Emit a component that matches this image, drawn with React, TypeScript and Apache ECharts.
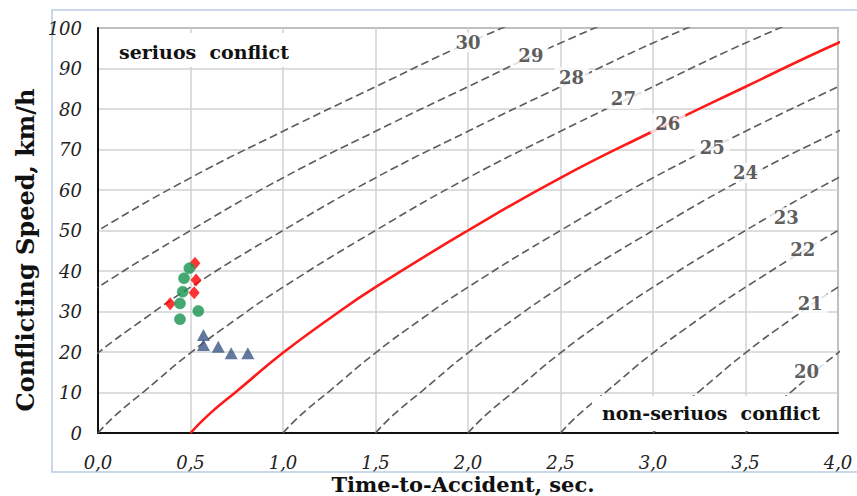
import React, { useEffect, useRef } from "react";
import * as echarts from "echarts";

// Base curve: Conflicting speed (km/h) vs time offset (s) from each contour's intercept
const baseS = [0, 0.1, 0.25, 0.5, 0.75, 1.0, 1.5, 2.0, 2.5, 3.0, 3.5, 4.0];
const baseV = [0, 4.6, 10.3, 19.8, 28.2, 36, 50, 63, 74.5, 85.5, 96.3, 106];

// Contours (severity levels) and their time-axis intercepts
const contourValues = [30, 29, 28, 27, 26, 25, 24, 23, 22, 21, 20];
const contourIntercepts = [-1.5, -1.0, -0.5, 0.0, 0.5, 1.0, 1.5, 2.0, 2.5, 3.0, 3.5];
const contourLabelT = [2.0, 2.34, 2.56, 2.84, 3.08, 3.32, 3.5, 3.72, 3.81, 3.85, 3.83];
const contourLabelV = [96.5, 93.1, 87.9, 82.5, 76.5, 70.6, 64.2, 53.3, 45.2, 31.9, 15.3];
const criticalLevel = 26;

// Observed conflicts
const diamondT = [0.524, 0.53, 0.52, 0.39];
const diamondV = [41.9, 37.8, 34.6, 31.9];
const circleT = [0.494, 0.465, 0.458, 0.443, 0.542, 0.443];
const circleV = [40.7, 38.2, 34.9, 32.0, 30.1, 28.1];
const triangleT = [0.57, 0.57, 0.65, 0.72, 0.81];
const triangleV = [24.2, 21.7, 21.3, 19.7, 19.7];

const xTicks = ["0,0", "0,5", "1,0", "1,5", "2,0", "2,5", "3,0", "3,5", "4,0"];

export default function App() {
  const ref = useRef<HTMLDivElement>(null);
  useEffect(() => {
    if (!ref.current) return;
    const chart = echarts.init(ref.current, null, { renderer: "svg" });
    const serif = "DejaVu Serif";
    const contourSeries = contourValues.map((val, ci) => ({
      type: "line",
      name: "c" + val,
      data: baseS.map((s, i) => [s + contourIntercepts[ci], baseV[i]]),
      showSymbol: false,
      smooth: 0.5,
      clip: true,
      silent: true,
      z: val === criticalLevel ? 4 : 3,
      lineStyle:
        val === criticalLevel
          ? { color: "#ff1a1a", width: 2.6, type: "solid" }
          : { color: "#5c5c5c", width: 1.6, type: [8, 4] },
    }));
    const option: any = {
      animation: false,
      backgroundColor: "#ffffff",
      grid: {
        left: 98,
        right: 19,
        top: 28,
        bottom: 63,
        show: true,
        borderColor: "#666",
        borderWidth: 1.5,
      },
      xAxis: {
        type: "value",
        min: 0,
        max: 4,
        interval: 0.5,
        axisLine: { show: true, lineStyle: { color: "#111", width: 2 } },
        axisTick: { show: false },
        axisLabel: {
          margin: 20,
          fontFamily: serif,
          fontStyle: "italic",
          fontSize: 18,
          color: "#222",
          formatter: (v: number) => xTicks[Math.round(v / 0.5)],
        },
        splitLine: { show: true, lineStyle: { color: "#d2d2d2", width: 1.5 } },
      },
      yAxis: {
        type: "value",
        min: 0,
        max: 100,
        interval: 10,
        axisLine: { show: true, lineStyle: { color: "#111", width: 2 } },
        axisTick: { show: false },
        axisLabel: {
          margin: 16,
          fontFamily: serif,
          fontStyle: "italic",
          fontSize: 18,
          color: "#222",
        },
        splitLine: { show: true, lineStyle: { color: "#d2d2d2", width: 1.5 } },
      },
      series: [
        ...contourSeries,
        {
          type: "scatter",
          name: "labels",
          silent: true,
          z: 10,
          symbolSize: 2,
          itemStyle: { color: "rgba(0,0,0,0)" },
          data: contourValues.map((v, i) => [contourLabelT[i], contourLabelV[i], v]),
          label: {
            show: true,
            position: "inside",
            formatter: (p: any) => String(p.value[2]),
            fontFamily: serif,
            fontWeight: "bold",
            fontSize: 18,
            color: "#333",
            backgroundColor: "#ffffff",
            padding: [1, 5],
          },
        },
        {
          type: "scatter",
          name: "diamonds",
          symbol: "diamond",
          symbolSize: [11, 13],
          z: 11,
          itemStyle: { color: "#ff0000" },
          data: diamondT.map((t, i) => [t, diamondV[i]]),
        },
        {
          type: "scatter",
          name: "circles",
          symbol: "circle",
          symbolSize: 11,
          z: 12,
          itemStyle: { color: "#17914e", borderColor: "#3fa86a", borderWidth: 0.8 },
          data: circleT.map((t, i) => [t, circleV[i]]),
        },
        {
          type: "scatter",
          name: "triangles",
          symbol: "triangle",
          symbolSize: [13, 12],
          z: 12,
          itemStyle: { color: "#3b5784" },
          data: triangleT.map((t, i) => [t, triangleV[i]]),
        },
      ],
      graphic: [
        {
          type: "rect",
          z: -10,
          silent: true,
          shape: { x: 52, y: 10, width: 830, height: 462 },
          style: { fill: "none", stroke: "#b9cbe4", lineWidth: 1.5 },
        },
        {
          type: "text",
          silent: true,
          x: 25,
          y: 250,
          rotation: Math.PI / 2,
          style: {
            text: "Conflicting Speed, km/h",
            font: "bold 24px 'DejaVu Serif'",
            fill: "#111",
            align: "center",
            verticalAlign: "middle",
          },
        },
        {
          type: "text",
          silent: true,
          x: 463,
          y: 484,
          style: {
            text: "Time-to-Accident, sec.",
            font: "bold 21px 'DejaVu Serif'",
            fill: "#111",
            align: "center",
            verticalAlign: "middle",
          },
        },
        {
          type: "rect",
          z: 100,
          silent: true,
          shape: { x: 108, y: 33, width: 194, height: 34 },
          style: { fill: "#ffffff" },
        },
        {
          type: "text",
          z: 101,
          silent: true,
          x: 204,
          y: 52,
          style: {
            text: "seriuos  conflict",
            font: "bold 19px 'DejaVu Serif'",
            fill: "#111",
            align: "center",
            verticalAlign: "middle",
          },
        },
        {
          type: "rect",
          z: 100,
          silent: true,
          shape: { x: 592, y: 396, width: 244, height: 35 },
          style: { fill: "#ffffff" },
        },
        {
          type: "text",
          z: 101,
          silent: true,
          x: 711,
          y: 413,
          style: {
            text: "non-seriuos  conflict",
            font: "bold 19px 'DejaVu Serif'",
            fill: "#111",
            align: "center",
            verticalAlign: "middle",
          },
        },
      ],
    };
    chart.setOption(option);
    return () => chart.dispose();
  }, []);
  return (
    <div
      ref={ref}
      style={{ position: "fixed", left: 0, top: 0, width: 857, height: 496 }}
    />
  );
}
